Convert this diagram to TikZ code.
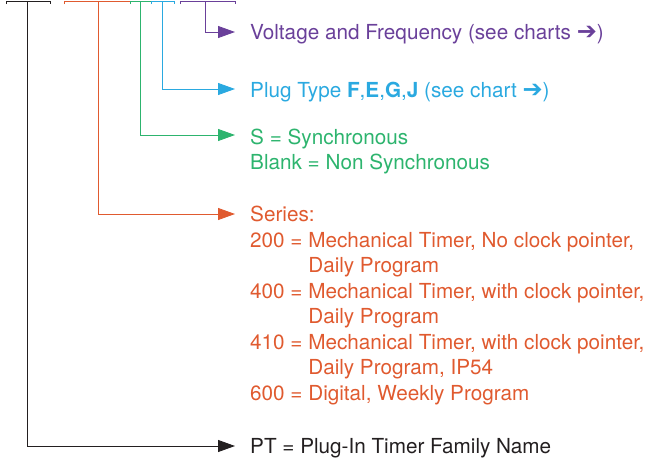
\documentclass[tikz,border=0pt]{standalone}
\usepackage{fontspec}
\setmainfont{TeX Gyre Heros}
\newfontfamily\symfont{DejaVu Sans}
\usetikzlibrary{arrows.meta}
\definecolor{cblack}{HTML}{231F20}
\definecolor{corange}{HTML}{E05A2F}
\definecolor{cgreen}{HTML}{2DB46E}
\definecolor{cblue}{HTML}{2AA9E0}
\definecolor{cpurple}{HTML}{6A409A}
\newcommand{\rarr}{{\symfont\bfseries\fontsize{24}{25}\selectfont ➔}}
\begin{document}
\begin{tikzpicture}[x=1pt,y=-1pt,
  conn/.style={line width=0.9pt, -{Triangle[length=17pt,width=12pt]}},
  brk/.style={line width=0.9pt},
  lbl/.style={anchor=base west, inner sep=0pt, font=\fontsize{20.7}{25.5}\selectfont}]
\useasboundingbox (0,0) rectangle (646,458);
% brackets
\draw[brk,cblack]  (6,4) -- (6,1.8) -- (50,1.8) -- (50,4);
\draw[brk,corange] (64,4) -- (64,1.8) -- (130,1.8) -- (130,4);
\draw[brk,cgreen]  (130,4) -- (130,1.8) -- (151,1.8) -- (151,4);
\draw[brk,cblue]   (151,4) -- (151,1.8) -- (174,1.8) -- (174,4);
\draw[brk,cpurple] (180,4) -- (180,1.8) -- (235,1.8) -- (235,4);
\coordinate (sk) at (27,1.8);
\coordinate (so) at (98,1.8);
\coordinate (sg) at (140,1.8);
\coordinate (sb) at (162,1.8);
\coordinate (sp) at (205,1.8);
% arrow targets
\coordinate (tp) at (235,32);
\coordinate (tb) at (235,89);
\coordinate (tg) at (235,135);
\coordinate (to) at (235,214);
\coordinate (tk) at (235,446);
\draw[conn,cpurple] (sp) |- (tp);
\draw[conn,cblue]   (sb) |- (tb);
\draw[conn,cgreen]  (sg) |- (tg);
\draw[conn,corange] (so) |- (to);
\draw[conn,cblack]  (sk) |- (tk);
% labels
\node[lbl,text=cpurple] (v) at (250,39.5) {Voltage and Frequency (see charts \rarr)};
\node[lbl,text=cblue] (p) at (250,97) {Plug Type \textbf{F},\textbf{E},\textbf{G},\textbf{J} (see chart \rarr)};
\node[lbl,text=cgreen] (s1) at (250,144) {S = Synchronous};
\node[lbl,text=cgreen] (s2) at (250,169.5) {Blank = Non Synchronous};
\node[lbl,text=corange] (r0) at (250,221.5) {Series:};
\node[lbl,text=corange] (r1) at (250,247) {200 = Mechanical Timer, No clock pointer,};
\node[lbl,text=corange] (r2) at (250,272.5) {\hphantom{200 = }Daily Program};
\node[lbl,text=corange] (r3) at (250,298) {400 = Mechanical Timer, with clock pointer,};
\node[lbl,text=corange] (r4) at (250,323.5) {\hphantom{400 = }Daily Program};
\node[lbl,text=corange] (r5) at (250,349) {410 = Mechanical Timer, with clock pointer,};
\node[lbl,text=corange] (r6) at (250,374.5) {\hphantom{410 = }Daily Program, IP54};
\node[lbl,text=corange] (r7) at (250,400) {600 = Digital, Weekly Program};
\node[lbl,text=cblack] (k) at (250,453) {PT = Plug-In Timer Family Name};
\end{tikzpicture}
\end{document}
